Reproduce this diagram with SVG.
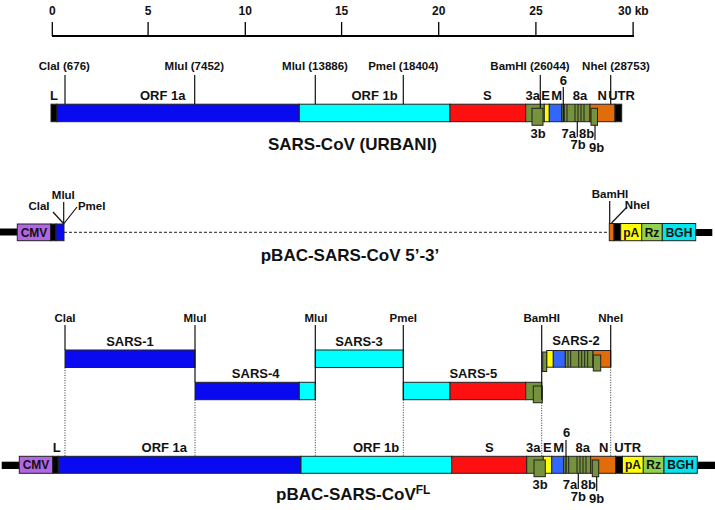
<svg xmlns="http://www.w3.org/2000/svg" width="715" height="510" viewBox="0 0 715 510">
<style>
text{font-family:"Liberation Sans",Arial,sans-serif;font-weight:bold;fill:#111;text-anchor:middle}
.s{font-size:11.5px}
.m{font-size:13px}
.t{font-size:17px}
.box{stroke:#222;stroke-width:1}
.ln{stroke:#111;stroke-width:1.2;fill:none}
.dot{stroke:#333;stroke-width:1;stroke-dasharray:1,1.5;fill:none}
.blk{fill:#000}
.b1{fill:#0a0af0}
.cy{fill:#00ffff}
.rd{fill:#ff1010}
.gr{fill:#76923c}
.ye{fill:#ffff00}
.mb{fill:#3366ff}
.or{fill:#e36c0a}
.pu{fill:#b266e6}
.rz{fill:#92d050}
.bgh{fill:#00e5ee}
</style>
<rect width="715" height="510" fill="#fff"/>

<g id="scale">
<line x1="52" y1="36" x2="634" y2="36" stroke="#000" stroke-width="2"/>
<g stroke="#000" stroke-width="1.3">
<line x1="52.3" y1="22" x2="52.3" y2="36"/><line x1="148.1" y1="22" x2="148.1" y2="36"/><line x1="245.3" y1="22" x2="245.3" y2="36"/><line x1="341.6" y1="22" x2="341.6" y2="36"/><line x1="438.7" y1="22" x2="438.7" y2="36"/><line x1="535.9" y1="22" x2="535.9" y2="36"/><line x1="633.1" y1="22" x2="633.1" y2="36"/>
</g>
<text class="s" x="52.3" y="15" style="font-size:12px">0</text>
<text class="s" x="148.1" y="15" style="font-size:12px">5</text>
<text class="s" x="245.3" y="15" style="font-size:12px">10</text>
<text class="s" x="341.6" y="15" style="font-size:12px">15</text>
<text class="s" x="438.7" y="15" style="font-size:12px">20</text>
<text class="s" x="535.9" y="15" style="font-size:12px">25</text>
<text class="s" x="618" y="15" style="font-size:12px;text-anchor:start">30 kb</text>
</g>

<g id="sars-cov-urbani">
<rect class="box blk" x="51" y="104.2" width="6" height="17.5"/>
<rect class="box b1" x="57" y="104.2" width="242.3" height="17.5"/>
<rect class="box cy" x="299.3" y="104.2" width="150.7" height="17.5"/>
<rect class="box rd" x="450" y="104.2" width="75.7" height="17.5"/>
<rect class="box gr" x="525.7" y="104.2" width="18.6" height="17.5"/>
<rect class="box ye" x="544.3" y="104.2" width="5" height="17.5"/>
<rect class="box mb" x="549.3" y="104.2" width="12.4" height="17.5"/>
<rect class="box gr" x="561.7" y="104.2" width="28.3" height="17.5"/>
<g stroke="#222" stroke-width="1"><line x1="564.3" y1="104.2" x2="564.3" y2="121.7"/><line x1="567" y1="104.2" x2="567" y2="121.7"/><line x1="575" y1="104.2" x2="575" y2="121.7"/><line x1="578" y1="104.2" x2="578" y2="121.7"/><line x1="581" y1="104.2" x2="581" y2="121.7"/><line x1="584" y1="104.2" x2="584" y2="121.7"/></g>
<rect class="box or" x="590" y="104.2" width="25" height="17.5"/>
<rect class="box blk" x="615" y="104.2" width="6.7" height="17.5"/>
<rect class="box gr" x="532" y="108.3" width="11" height="17"/>
<rect class="box gr" x="591" y="108.3" width="6.5" height="17"/>
<text class="m" x="54" y="100">L</text>
<text class="m" x="162.7" y="100">ORF 1a</text>
<text class="m" x="374.5" y="100">ORF 1b</text>
<text class="m" x="487.3" y="100">S</text>
<text class="m" x="532.7" y="100">3a</text>
<text class="m" x="545.7" y="100">E</text>
<text class="m" x="556.7" y="100">M</text>
<text class="m" x="563.3" y="84.5">6</text>
<text class="m" x="580" y="100">8a</text>
<text class="m" x="602.3" y="100">N</text>
<text class="m" x="621.5" y="100">UTR</text>
<text class="m" x="538" y="137.5">3b</text>
<text class="m" x="568.7" y="137.5">7a</text>
<text class="m" x="586.7" y="137.5">8b</text>
<text class="m" x="578" y="149">7b</text>
<text class="m" x="596.7" y="152">9b</text>
<text class="s" x="64.3" y="70">ClaI (676)</text>
<text class="s" x="194.3" y="70">MluI (7452)</text>
<text class="s" x="315" y="70">MluI (13886)</text>
<text class="s" x="403.3" y="70">PmeI (18404)</text>
<text class="s" x="530" y="70">BamHI (26044)</text>
<text class="s" x="616" y="70">NheI (28753)</text>
<text class="t" x="352.5" y="150">SARS-CoV (URBANI)</text>
</g>

<g id="pbac-5-3">
<rect class="blk" x="0" y="228.5" width="17.3" height="7"/>
<rect class="box pu" x="17.3" y="224" width="33.4" height="16.7"/>
<rect class="box blk" x="50.7" y="224" width="5.3" height="16.7"/>
<rect class="box b1" x="56" y="224" width="8" height="16.7"/>
<line x1="64" y1="232.3" x2="609.3" y2="232.3" stroke="#222" stroke-width="1" stroke-dasharray="3,2"/>
<rect class="box or" x="609.3" y="223.5" width="4.7" height="17.2"/>
<rect class="box blk" x="614" y="223.5" width="6.7" height="17.2"/>
<rect class="box ye" x="620.7" y="223.5" width="21" height="17.2"/>
<rect class="box rz" x="641.7" y="223.5" width="20.6" height="17.2"/>
<rect class="box bgh" x="662.3" y="223.5" width="33.4" height="17.2"/>
<rect class="blk" x="695.7" y="229" width="16.6" height="7"/>
<text class="s" x="34" y="237" style="font-size:12px">CMV</text>
<text class="s" x="631.2" y="237" style="font-size:12px">pA</text>
<text class="s" x="652" y="237" style="font-size:12px">Rz</text>
<text class="s" x="679" y="237" style="font-size:12px">BGH</text>
<text class="s" x="39" y="210">ClaI</text>
<text class="s" x="63.3" y="199">MluI</text>
<text class="s" x="91.7" y="210">PmeI</text>
<text class="s" x="610" y="198">BamHI</text>
<text class="s" x="637.3" y="209">NheI</text>
<text class="t" x="350" y="261">pBAC-SARS-CoV 5’-3’</text>
</g>

<g id="sars-1">
<rect class="box b1" x="65" y="350" width="130" height="17.5"/>
<text class="m" x="130" y="346">SARS-1</text>
</g>
<g id="sars-4">
<rect class="box b1" x="195" y="382.3" width="104.3" height="17.4"/>
<rect class="box cy" x="299.3" y="382.3" width="16" height="17.4"/>
<text class="m" x="255.7" y="377.5">SARS-4</text>
</g>
<g id="sars-3">
<rect class="box cy" x="315.3" y="350" width="88" height="17.5"/>
<text class="m" x="359" y="346">SARS-3</text>
</g>
<g id="sars-5">
<rect class="box cy" x="403.3" y="382.3" width="46.7" height="17.4"/>
<rect class="box rd" x="450" y="382.3" width="75.7" height="17.4"/>
<rect class="box gr" x="525.7" y="382.3" width="16" height="17.4"/>
<rect class="box gr" x="533.3" y="386" width="9" height="16.7"/>
<text class="m" x="473.3" y="377.5">SARS-5</text>
</g>
<g id="sars-2">
<rect class="box ye" x="546.7" y="350.5" width="6.6" height="16.7"/>
<rect class="box mb" x="553.3" y="350.5" width="12" height="16.7"/>
<rect class="box gr" x="565.3" y="350.5" width="27.7" height="16.7"/>
<g stroke="#222" stroke-width="1"><line x1="568" y1="350.5" x2="568" y2="367.2"/><line x1="570.7" y1="350.5" x2="570.7" y2="367.2"/><line x1="578.7" y1="350.5" x2="578.7" y2="367.2"/><line x1="581.7" y1="350.5" x2="581.7" y2="367.2"/><line x1="584.7" y1="350.5" x2="584.7" y2="367.2"/><line x1="587.7" y1="350.5" x2="587.7" y2="367.2"/></g>
<rect class="box or" x="593" y="350.5" width="17.7" height="16.7"/>
<rect class="box gr" x="542.7" y="352" width="4" height="19.5"/>
<rect class="box gr" x="593.3" y="355" width="7.4" height="16"/>
<text class="m" x="576" y="345">SARS-2</text>
</g>

<g id="fragment-sites">
<text class="s" x="65" y="321.7">ClaI</text>
<text class="s" x="195" y="321.7">MluI</text>
<text class="s" x="316" y="321.7">MluI</text>
<text class="s" x="403.3" y="321.7">PmeI</text>
<text class="s" x="541.7" y="321.7">BamHI</text>
<text class="s" x="610.7" y="321.7">NheI</text>
</g>

<g id="pbac-sars-cov-fl">
<rect class="blk" x="1.7" y="461.7" width="17.6" height="7.3"/>
<rect class="box pu" x="19.3" y="456.3" width="33.4" height="17"/>
<rect class="box blk" x="52.7" y="456.3" width="5.6" height="17"/>
<rect class="box b1" x="58.3" y="456.3" width="242.7" height="17"/>
<rect class="box cy" x="301" y="456.3" width="150.7" height="17"/>
<rect class="box rd" x="451.7" y="456.3" width="75" height="17"/>
<rect class="box gr" x="526.7" y="456.3" width="16.6" height="17"/>
<rect class="box ye" x="543.3" y="456.3" width="8.4" height="17"/>
<rect class="box mb" x="551.7" y="456.3" width="12" height="17"/>
<rect class="box gr" x="563.7" y="456.3" width="27" height="17"/>
<g stroke="#222" stroke-width="1"><line x1="568.7" y1="456.3" x2="568.7" y2="473.3"/><line x1="577" y1="456.3" x2="577" y2="473.3"/><line x1="580" y1="456.3" x2="580" y2="473.3"/><line x1="583" y1="456.3" x2="583" y2="473.3"/><line x1="586" y1="456.3" x2="586" y2="473.3"/></g>
<rect class="box or" x="590.7" y="456.3" width="24.8" height="17"/>
<rect class="box blk" x="615.5" y="456.3" width="7" height="17"/>
<rect class="box ye" x="622.5" y="456.3" width="20.8" height="17"/>
<rect class="box rz" x="643.3" y="456.3" width="20.7" height="17"/>
<rect class="box bgh" x="664" y="456.3" width="33.3" height="17"/>
<rect class="blk" x="697.3" y="461.7" width="17.7" height="7.3"/>
<rect class="box gr" x="534" y="460" width="11.3" height="16.7"/>
<rect class="box gr" x="592.3" y="460" width="6.4" height="16.7"/>
<text class="s" x="36" y="469" style="font-size:12px">CMV</text>
<text class="s" x="633" y="469" style="font-size:12px">pA</text>
<text class="s" x="653.7" y="469" style="font-size:12px">Rz</text>
<text class="s" x="680.7" y="469" style="font-size:12px">BGH</text>
<text class="m" x="56.7" y="452">L</text>
<text class="m" x="164.3" y="452">ORF 1a</text>
<text class="m" x="376" y="452">ORF 1b</text>
<text class="m" x="489.3" y="452">S</text>
<text class="m" x="533.3" y="452">3a</text>
<text class="m" x="547.3" y="452">E</text>
<text class="m" x="558.7" y="452">M</text>
<text class="m" x="566.7" y="437">6</text>
<text class="m" x="582.7" y="452">8a</text>
<text class="m" x="603.7" y="452">N</text>
<text class="m" x="627.7" y="452">UTR</text>
<text class="m" x="540" y="488.5">3b</text>
<text class="m" x="570" y="488.5">7a</text>
<text class="m" x="588.3" y="488.5">8b</text>
<text class="m" x="578.3" y="500.5">7b</text>
<text class="m" x="596.7" y="503">9b</text>
<text class="t" x="276" y="500" style="text-anchor:start">pBAC-SARS-CoV<tspan style="font-size:12px" dy="-6">FL</tspan></text>
</g>

<g id="connectors">
<line class="ln" x1="65" y1="75" x2="65" y2="104.2"/>
<line class="ln" x1="194.7" y1="75" x2="194.7" y2="104.2"/>
<line class="ln" x1="315.3" y1="75" x2="315.3" y2="104.2"/>
<line class="ln" x1="403.3" y1="75" x2="403.3" y2="104.2"/>
<line class="ln" x1="540.3" y1="75" x2="540.3" y2="108.3"/>
<line class="ln" x1="610.7" y1="75" x2="610.7" y2="104.2"/>
<line class="ln" x1="563.3" y1="87" x2="563.3" y2="121.7"/>
<line class="ln" x1="577.3" y1="121.7" x2="577.3" y2="137"/>
<line class="ln" x1="595" y1="125.3" x2="595" y2="140"/>

<line class="ln" x1="53" y1="212" x2="63.5" y2="223.5"/>
<line class="ln" x1="63.7" y1="202" x2="63.7" y2="224"/>
<line class="ln" x1="77" y1="207" x2="64" y2="223.5"/>
<line class="ln" x1="609.7" y1="201" x2="609.7" y2="223.5"/>
<line class="ln" x1="627" y1="207" x2="611.5" y2="223"/>

<line class="ln" x1="65" y1="325" x2="65" y2="350"/>
<line class="ln" x1="195" y1="325" x2="195" y2="382.3"/>
<line class="ln" x1="315.3" y1="325" x2="315.3" y2="399.7"/>
<line class="ln" x1="403.3" y1="325" x2="403.3" y2="399.7"/>
<line class="ln" x1="541.7" y1="325" x2="541.7" y2="399.7"/>
<line class="ln" x1="610.7" y1="325" x2="610.7" y2="367.2"/>

<line class="dot" x1="65" y1="367.5" x2="65" y2="456.3"/>
<line class="dot" x1="195" y1="399.7" x2="195" y2="456.3"/>
<line class="dot" x1="315.3" y1="399.7" x2="315.3" y2="456.3"/>
<line class="dot" x1="403.3" y1="399.7" x2="403.3" y2="456.3"/>
<line class="dot" x1="541.7" y1="402.7" x2="541.7" y2="456.3"/>
<line class="dot" x1="610.7" y1="367.2" x2="610.7" y2="456.3"/>

<line class="ln" x1="566" y1="440" x2="566" y2="473.3"/>
<line class="ln" x1="578.3" y1="473.3" x2="578.3" y2="489"/>
<line class="ln" x1="596.7" y1="476.7" x2="596.7" y2="491"/>
</g>
</svg>
